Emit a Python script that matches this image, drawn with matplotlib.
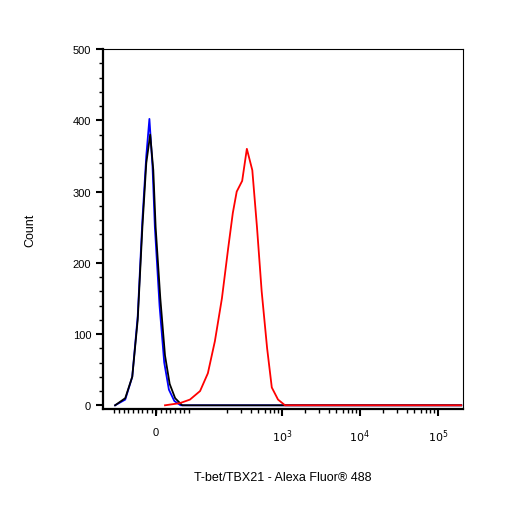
import numpy as np
import matplotlib.pyplot as plt

plt.rcParams['font.family'] = ['Liberation Sans', 'DejaVu Sans']

# x in display "decade" units: 3 -> 10^3, 4 -> 10^4, 5 -> 10^5, 1.385 -> 0
black_x = [0.86, 0.99, 1.08, 1.15, 1.21, 1.26, 1.31, 1.35, 1.38, 1.44, 1.50, 1.56, 1.63, 1.72, 5.3]
black_y = [0, 10, 40, 120, 250, 340, 380, 330, 250, 150, 70, 30, 10, 0, 0]
blue_x = [0.86, 0.99, 1.08, 1.15, 1.21, 1.26, 1.30, 1.34, 1.37, 1.43, 1.49, 1.55, 1.62, 1.70, 5.3]
blue_y = [0, 8, 40, 125, 260, 350, 402, 335, 250, 140, 60, 22, 6, 0, 0]
red_x = [1.50, 1.69, 1.82, 1.95, 2.05, 2.14, 2.23, 2.31, 2.37, 2.42, 2.49, 2.55, 2.62,
         2.68, 2.74, 2.81, 2.87, 2.95, 3.04, 5.3]
red_y = [0, 3, 8, 20, 45, 90, 150, 220, 270, 300, 315, 360, 330, 250, 160, 80, 25, 8, 0, 0]

zero_pos = 1.385
xmin, xmax = 0.705, 5.32

fig = plt.figure(figsize=(5.06, 5.06), dpi=100)
ax = fig.add_axes([0.2036, 0.19, 0.711, 0.711])
ax.plot(blue_x, blue_y, color='blue', lw=1.3)
ax.plot(black_x, black_y, color='black', lw=1.3)
ax.plot(red_x, red_y, color='red', lw=1.3)

ax.set_xlim(xmin, xmax)
ax.set_ylim(-5, 500)
ax.set_yticks(range(0, 501, 100))
ax.set_yticks(range(0, 501, 20), minor=True)

ax.set_xticks([zero_pos, 3, 4, 5])
ax.set_xticklabels(['0', '$10^3$', '$10^4$', '$10^5$'])
minor = [2 + np.log10(m) for m in range(2, 10)]
minor += [d + np.log10(m) for d in (3, 4) for m in range(2, 10)]
minor += list(np.arange(0.85, 1.85, 0.06))
ax.set_xticks(minor, minor=True)

ax.spines['left'].set_linewidth(1.6)
ax.spines['bottom'].set_linewidth(1.6)
ax.spines['top'].set_linewidth(0.8)
ax.spines['right'].set_linewidth(0.8)
ax.tick_params(which='major', length=5, width=1.5, labelsize=8)
ax.tick_params(axis='x', which='major', pad=8)
ax.tick_params(which='minor', length=3, width=1)
ax.set_ylabel('Count', fontsize=9, labelpad=26)
ax.set_xlabel('T-bet/TBX21 - Alexa Fluor\u00ae 488', fontsize=9, labelpad=20)

fig.savefig('out.png', dpi=100)
